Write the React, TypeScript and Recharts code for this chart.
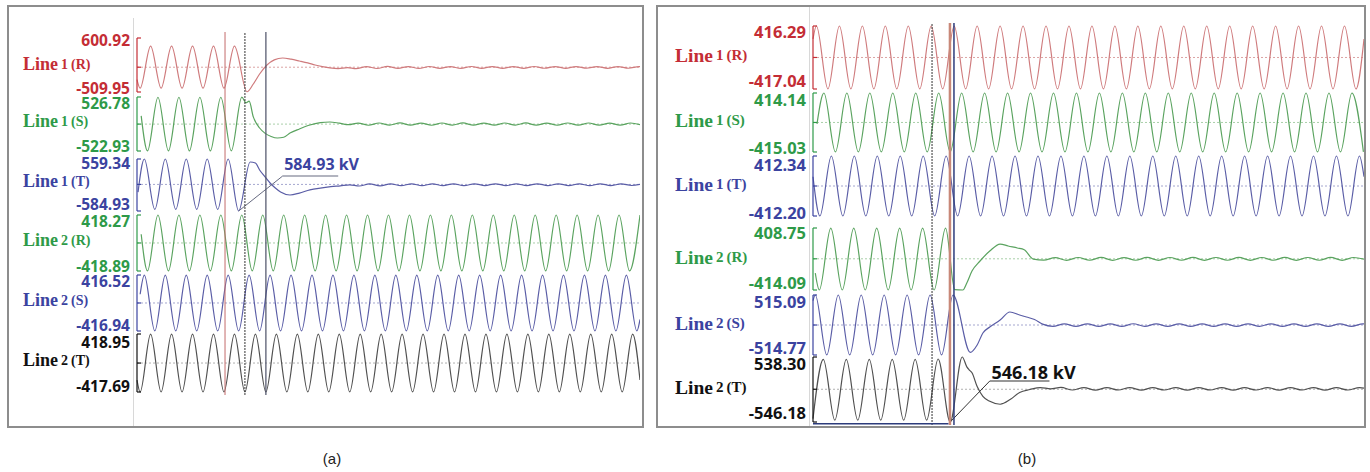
import React from 'react';
import { LineChart, Line, XAxis, YAxis, ReferenceLine, ReferenceDot } from 'recharts';

// time axis of both recordings, ms
const T_MAX = 480;

// ---------- (a) kV against ms ----------
const aLine1R = [
  [0, -255], [3, -432], [13, 432], [23, -432], [33, 432], [43, -432], [53, 432], [63, -432], [73, 432], [83, -432],
  [93, 432], [105, -505], [111, -345], [117, -140], [124, 45], [131, 150], [139, 189], [147, 165], [155, 128], [163, 88],
  [170, 45], [177, 12], [184, -14], [192, -28], [201, -8], [209, -30], [219, 14], [229, -26], [239, 16], [249, -24],
  [259, 14], [269, -25], [279, 15], [289, -23], [299, 13], [309, -24], [319, 15], [329, -22], [339, 14], [349, -23],
  [359, 13], [369, -22], [379, 15], [389, -21], [399, 13], [409, -22], [419, 14], [429, -21], [439, 12], [449, -22],
  [459, 13], [469, -21], [479, 12], [480, 11],
];
const aLine1S = [
  [4, 160], [10, -520], [20, 522], [30, -520], [40, 522], [50, -520], [60, 522], [70, -520], [80, 522], [90, -520],
  [100, 524], [104, 415], [107, 445], [111, 140], [117, -76], [122, -175], [128, -240], [134, -270], [140, -255], [146, -175],
  [155, -95], [165, -18], [175, 28], [184, 41], [193, 18], [202, -12], [211, 20], [221, -22], [231, 21], [241, -20],
  [251, 22], [261, -21], [271, 20], [281, -22], [291, 21], [301, -20], [311, 22], [321, -21], [331, 20], [341, -21],
  [351, 21], [361, -20], [371, 22], [381, -21], [391, 20], [401, -22], [411, 21], [421, -20], [431, 21], [441, -21],
  [451, 20], [461, -21], [471, 21], [480, -10],
];
const aLine1T = [
  [1, -170], [7, 559], [17, -550], [27, 559], [37, -550], [47, 559], [57, -550], [67, 559], [77, -550], [87, 559],
  [97, -584.93], [108, 493], [113, 470], [117, 317], [122, 170], [127, 31], [132, -80], [137, -167], [146, -233], [155, -190],
  [165, -120], [175, -80], [185, -50], [194, -30], [203, -8], [212, -35], [222, 10], [232, -30], [242, 12], [252, -28],
  [262, 14], [272, -27], [282, 13], [292, -26], [302, 14], [312, -27], [322, 13], [332, -25], [342, 14], [352, -26],
  [362, 12], [372, -25], [382, 14], [392, -26], [402, 13], [412, -25], [422, 12], [432, -26], [442, 13], [452, -25],
  [462, 12], [472, -24], [480, 0],
];
const aLine2R = [
  [4, 130], [10, -418], [20, 418], [30, -418], [40, 418], [50, -418], [60, 418], [70, -418], [80, 418], [90, -418],
  [100, 418], [110, -418], [120, 418], [130, -418], [140, 418], [150, -418], [160, 418], [170, -418], [180, 418], [190, -418],
  [200, 418], [210, -418], [220, 418], [230, -418], [240, 418], [250, -418], [260, 418], [270, -418], [280, 418], [290, -418],
  [300, 418], [310, -418], [320, 418], [330, -418], [340, 418], [350, -418], [360, 418], [370, -418], [380, 418], [390, -418],
  [400, 418], [410, -418], [420, 418], [430, -418], [440, 418], [450, -418], [460, 418], [470, -418], [480, 418],
];
const aLine2S = [
  [3, 130], [7, 416], [17, -416], [27, 416], [37, -416], [47, 416], [57, -416], [67, 416], [77, -416], [87, 416],
  [97, -416], [107, 416], [117, -416], [127, 416], [137, -416], [147, 416], [157, -416], [167, 416], [177, -416], [187, 416],
  [197, -416], [207, 416], [217, -416], [227, 416], [237, -416], [247, 416], [257, -416], [267, 416], [277, -416], [287, 416],
  [297, -416], [307, 416], [317, -416], [327, 416], [337, -416], [347, 416], [357, -416], [367, 416], [377, -416], [387, 416],
  [397, -416], [407, 416], [417, -416], [427, 416], [437, -416], [447, 416], [457, -416], [467, 416], [477, -416], [480, -245],
];
const aLine2T = [
  [0, -246], [3, -417], [13, 418], [23, -417], [33, 418], [43, -417], [53, 418], [63, -417], [73, 418], [83, -417],
  [93, 418], [103, -417], [113, 418], [123, -417], [133, 418], [143, -417], [153, 418], [163, -417], [173, 418], [183, -417],
  [193, 418], [203, -417], [213, 418], [223, -417], [233, 418], [243, -417], [253, 418], [263, -417], [273, 418], [283, -417],
  [293, 418], [303, -417], [313, 418], [323, -417], [333, 418], [343, -417], [353, 418], [363, -417], [373, 418], [383, -417],
  [393, 418], [403, -417], [413, 418], [423, -417], [433, 418], [443, -417], [453, 418], [463, -417], [473, 418], [480, -245],
];
const aMax = [600.92, 526.78, 559.34, 418.27, 416.52, 418.95];
const aMin = [-509.95, -522.93, -584.93, -418.89, -416.94, -417.69];
const aCursors = [84, 103, 123];

// ---------- (b) kV against ms ----------
const bLine1R = [
  [0, 245], [3, 416], [13, -416], [23, 416], [33, -416], [43, 416], [53, -416], [63, 416], [73, -416], [83, 416],
  [93, -416], [103, 416], [113, -416], [123, 416], [133, -416], [143, 416], [153, -416], [163, 416], [173, -416], [183, 416],
  [193, -416], [203, 416], [213, -416], [223, 416], [233, -416], [243, 416], [253, -416], [263, 416], [273, -416], [283, 416],
  [293, -416], [303, 416], [313, -416], [323, 416], [333, -416], [343, 416], [353, -416], [363, 416], [373, -416], [383, 416],
  [393, -416], [403, 416], [413, -416], [423, 416], [433, -416], [443, 416], [453, -416], [463, 416], [473, -416], [480, 245],
];
const bLine1S = [
  [3.5, -20], [9.5, 414], [19.5, -414], [29.5, 414], [39.5, -414], [49.5, 414], [59.5, -414], [69.5, 414], [79.5, -414], [89.5, 414],
  [99.5, -414], [109.5, 414], [119.5, -414], [129.5, 414], [139.5, -414], [149.5, 414], [159.5, -414], [169.5, 414], [179.5, -414], [189.5, 414],
  [199.5, -414], [209.5, 414], [219.5, -414], [229.5, 414], [239.5, -414], [249.5, 414], [259.5, -414], [269.5, 414], [279.5, -414], [289.5, 414],
  [299.5, -414], [309.5, 414], [319.5, -414], [329.5, 414], [339.5, -414], [349.5, 414], [359.5, -414], [369.5, 414], [379.5, -414], [389.5, 414],
  [399.5, -414], [409.5, 414], [419.5, -414], [429.5, 414], [439.5, -414], [449.5, 414], [459.5, -414], [469.5, 414], [479.5, -414],
];
const bLine1T = [
  [0, 127], [6, -412], [16, 412], [26, -412], [36, 412], [46, -412], [56, 412], [66, -412], [76, 412], [86, -412],
  [96, 412], [106, -412], [116, 412], [126, -412], [136, 412], [146, -412], [156, 412], [166, -412], [176, 412], [186, -412],
  [196, 412], [206, -412], [216, 412], [226, -412], [236, 412], [246, -412], [256, 412], [266, -412], [276, 412], [286, -412],
  [296, 412], [306, -412], [316, 412], [326, -412], [336, 412], [346, -412], [356, 412], [366, -412], [376, 412], [386, -412],
  [396, 412], [406, -412], [416, 412], [426, -412], [436, 412], [446, -412], [456, 412], [466, -412], [476, 412], [480, 127],
];
const bLine2R = [
  [2, -190], [5.5, -414], [15.5, 408], [25.5, -414], [35.5, 408], [45.5, -414], [55.5, 408], [65.5, -414], [75.5, 408], [85.5, -414],
  [95.5, 408], [105.5, -414], [115.5, 408], [123.5, -410], [130.5, -414], [134, -321], [138.5, -162], [145.5, -29], [154, 103], [163, 196],
  [170, 170], [178, 143], [184, 120], [192, -5], [201, -18], [211, 16], [221, -20], [231, 17], [241, -19], [251, 18],
  [261, -20], [271, 16], [281, -19], [291, 18], [301, -20], [311, 17], [321, -19], [331, 18], [341, -20], [351, 17],
  [361, -19], [371, 18], [381, -20], [391, 17], [401, -19], [411, 18], [421, -20], [431, 17], [441, -19], [451, 18],
  [461, -20], [471, 17], [480, -5],
];
const bLine2S = [
  [0, 417], [2, 515], [12, -514], [22, 515], [32, -514], [42, 515], [52, -514], [62, 515], [72, -514], [82, 515],
  [92, -514], [102, 515], [112, -514], [122, 515], [137, -470], [143, -343], [148, -137], [154, -34], [163, 86], [171.5, 223],
  [180, 172], [186, 137], [193, 95], [200, 15], [209, -22], [219, 20], [229, -24], [239, 21], [249, -23], [259, 20],
  [269, -24], [279, 22], [289, -23], [299, 20], [309, -24], [319, 21], [329, -23], [339, 20], [349, -24], [359, 21],
  [369, -23], [379, 20], [389, -22], [399, 21], [409, -23], [419, 20], [429, -24], [439, 21], [449, -23], [459, 20],
  [469, -22], [479, 19], [480, 18],
];
const bLine2T = [
  [0, -490], [9, 500], [19, -515], [29, 500], [39, -515], [49, 500], [59, -515], [69, 500], [79, -515], [89, 500],
  [99, -515], [109, 505], [119.5, -546.18], [130, 538.3], [134, 374], [136, 325], [138.5, 275], [143, 45], [148, -119], [154, -201],
  [163, -250], [172, -168], [180, -53], [189, -4], [198, 29], [207, 8], [216, 30], [226, -12], [236, 28], [246, -14],
  [256, 27], [266, -12], [276, 28], [286, -13], [296, 27], [306, -12], [316, 28], [326, -14], [336, 27], [346, -12],
  [356, 28], [366, -13], [376, 27], [386, -12], [396, 28], [406, -13], [416, 27], [426, -12], [436, 28], [446, -13],
  [456, 27], [466, -12], [476, 28], [480, 20],
];
const bMax = [416.29, 414.14, 412.34, 408.75, 515.09, 538.3];
const bMin = [-417.04, -415.03, -412.2, -414.09, -514.77, -546.18];
const bCursors = [103.7, 119.3, 122.8];

const LINE_NO = ['1', '1', '1', '2', '2', '2'];
const PHASES = ['(R)', '(S)', '(T)', '(R)', '(S)', '(T)'];

// peak callouts: the marked trough, the knee of the leader, the end of the underline
const aNote = { band: 2, from: [97, -584.93], knee: [139, 185], end: 192, text: '584.93 kV' };
const bNote = { band: 5, from: [119.5, -546.18], knee: [154, 138], end: 206, text: '546.18 kV' };

// ---------- styling / layout ----------
const PALETTE: Record<string, { label: string; trace: string; dots: string }> = {
  red: { label: '#c42d35', trace: '#cf7b7d', dots: '#dba3a3' },
  green: { label: '#2e9a48', trace: '#5aa35f', dots: '#a9cfa9' },
  blue: { label: '#3b43a0', trace: '#5a5da6', dots: '#a4a6cf' },
  black: { label: '#111111', trace: '#505050', dots: '#b0b0b0' },
};
const COLOR_KEYS = ['red', 'green', 'blue', 'green', 'blue', 'black'];

const GEO_A = {
  left: 10, width: 630, axisW: 127, numRight: 120, nameX: 13, nameDy: -3,
  topIn: [2, 6, 4, 6, 5.5, 8], botIn: [4, 5, 7.5, 5, 6, 6],
  numFs: 15.5, lineFs: 18, subFs: 14, tops: [38, 97, 159, 215, 275, 334], bottoms: [92, 151, 211, 271, 331, 392],
  noteColor: '#3b43a0', leader: '#666a80', noteFs: 16, noteDy: -12,
  overlay: { left: 137, top: 32, width: 503, height: 363 },
  cursorStyles: [
    { stroke: '#c46a6a', strokeWidth: 1 },
    { stroke: '#333', strokeWidth: 1, strokeDasharray: '2 1' },
    { stroke: '#4b5066', strokeWidth: 1.2 },
  ],
};
const GEO_B = {
  left: 660, width: 704, axisW: 153, numRight: 146, nameX: 15, nameDy: -2,
  topIn: [5, 6, 8, 4, 6, 6], botIn: [9, 5, 4, 8, 8, 10],
  numFs: 16.5, lineFs: 19.5, subFs: 15, tops: [26, 93, 156, 228, 295, 357], bottoms: [89, 152, 216, 290, 355, 422],
  noteColor: '#111', leader: '#333', noteFs: 18, noteDy: -9,
  overlay: { left: 813, top: 23, width: 551, height: 402 },
  cursorStyles: [
    { stroke: '#333', strokeWidth: 1, strokeDasharray: '2 1' },
    { stroke: '#c88878', strokeWidth: 2.5 },
    { stroke: '#2d3c7c', strokeWidth: 1.5 },
  ],
};

const PAD = 12;

type Geo = typeof GEO_A;

const Band = ({ pts, min, max, idx, geo, note }: any) => {
  const g: Geo = geo;
  const top = g.tops[idx];
  const bottom = g.bottoms[idx];
  const c = PALETTE[COLOR_KEYS[idx]];
  const rows = pts.map(([t, v]: number[]) => ({ t, v }));

  const tick = (p: any) => {
    const v = p.payload.value;
    const y = p.y;
    const mark = <line x1={g.axisW} x2={g.axisW + 4} y1={y} y2={y} stroke={c.label} strokeWidth={1.2} />;
    if (v === 0) {
      return (
        <g>
          {mark}
          <text x={g.nameX} y={y + g.nameDy} dominantBaseline="central" fill={c.label}
            fontFamily="'Liberation Serif', serif" fontWeight="bold">
            <tspan fontSize={g.lineFs}>Line</tspan>
            <tspan dx={3} fontSize={g.subFs}>{LINE_NO[idx]}</tspan>
            <tspan dx={3} fontSize={g.subFs}>{PHASES[idx]}</tspan>
          </text>
        </g>
      );
    }
    const dy = v === max ? g.topIn[idx] : -g.botIn[idx];
    return (
      <g>
        {mark}
        <text x={g.numRight} y={y + dy} textAnchor="end" dominantBaseline="central" fill={c.label}
          fontFamily="'Open Sans', sans-serif" fontWeight="bold" fontSize={g.numFs}>
          {v.toFixed(2)}
        </text>
      </g>
    );
  };

  return (
    <div style={{ position: 'absolute', left: g.left, top: top - PAD }}>
      <LineChart width={g.width} height={bottom - top + 2 * PAD} data={rows}
        margin={{ top: PAD, right: 0, bottom: PAD, left: 0 }}>
        <XAxis dataKey="t" type="number" domain={[0, T_MAX]} hide />
        <YAxis type="number" domain={[min, max]} ticks={[min, 0, max]} interval={0} width={g.axisW}
          axisLine={{ stroke: c.label, strokeWidth: 1.2 }} tickLine={false} tick={tick} />
        <ReferenceLine y={0} stroke={c.dots} strokeDasharray="2 2" />
        <Line type="monotone" dataKey="v" stroke={c.trace} strokeWidth={1.2} dot={false} isAnimationActive={false} />
        {note && (
          <>
            <ReferenceLine segment={[{ x: note.from[0], y: note.from[1] }, { x: note.knee[0], y: note.knee[1] }]}
              stroke={g.leader} strokeWidth={1} />
            <ReferenceLine segment={[{ x: note.knee[0], y: note.knee[1] }, { x: note.end, y: note.knee[1] }]}
              stroke={g.leader} strokeWidth={1.2} />
            <ReferenceDot x={note.knee[0] + 1.5} y={note.knee[1]} r={0} stroke="none" fill="none"
              label={(p: any) => {
                const vb = p.viewBox || p;
                return (
                  <text x={vb.x} y={vb.y + g.noteDy} dominantBaseline="central" fill={g.noteColor}
                    fontFamily="'Open Sans', sans-serif" fontWeight="bold" fontSize={g.noteFs}>
                    {note.text}
                  </text>
                );
              }} />
          </>
        )}
      </LineChart>
    </div>
  );
};

const Cursors = ({ geo, times, baseline }: any) => {
  const g: Geo = geo;
  const o = g.overlay;
  return (
    <div style={{ position: 'absolute', left: o.left, top: o.top }}>
      <LineChart width={o.width} height={o.height} data={[{ t: 0, y: 0 }, { t: T_MAX, y: 1 }]}
        margin={{ top: 0, right: 0, bottom: 0, left: 0 }}>
        <XAxis dataKey="t" type="number" domain={[0, T_MAX]} allowDataOverflow hide />
        <YAxis dataKey="y" type="number" domain={[0, 1]} allowDataOverflow hide />
        {times.map((t: number, i: number) => (
          <ReferenceLine key={i} x={t} {...g.cursorStyles[i]} />
        ))}
        {baseline && (
          <ReferenceLine segment={[{ x: 0, y: 0.003 }, { x: baseline, y: 0.003 }]} stroke="#2d3c7c" strokeWidth={1.5} />
        )}
      </LineChart>
    </div>
  );
};

const frame = (left: number, width: number): React.CSSProperties => ({
  position: 'absolute', left, top: 5, width, height: 423, boxSizing: 'border-box',
  border: '2px solid #8d8d8d', background: '#fff',
});

const caption: React.CSSProperties = {
  position: 'absolute', top: 450, width: 40, textAlign: 'center',
  fontFamily: "'Liberation Sans', Arial, sans-serif", fontSize: 15, color: '#222',
};

export default function App() {
  const aSeries = [aLine1R, aLine1S, aLine1T, aLine2R, aLine2S, aLine2T];
  const bSeries = [bLine1R, bLine1S, bLine1T, bLine2R, bLine2S, bLine2T];
  return (
    <div style={{ position: 'absolute', left: 0, top: 0, width: 1370, height: 472, background: '#fff' }}>
      <div style={frame(7, 637)} />
      <div style={frame(656, 710)} />
      <div style={{ position: 'absolute', left: 133, top: 18, width: 1, height: 408, background: '#d8d8d8' }} />
      <div style={{ position: 'absolute', left: 809, top: 7, width: 1, height: 419, background: '#d8d8d8' }} />

      {aSeries.map((pts, i) => (
        <Band key={'a' + i} pts={pts} min={aMin[i]} max={aMax[i]} idx={i} geo={GEO_A}
          note={aNote.band === i ? aNote : null} />
      ))}
      {bSeries.map((pts, i) => (
        <Band key={'b' + i} pts={pts} min={bMin[i]} max={bMax[i]} idx={i} geo={GEO_B}
          note={bNote.band === i ? bNote : null} />
      ))}

      <Cursors geo={GEO_A} times={aCursors} />
      <Cursors geo={GEO_B} times={bCursors} baseline={118} />

      <div style={{ ...caption, left: 312 }}>(a)</div>
      <div style={{ ...caption, left: 1007 }}>(b)</div>
    </div>
  );
}
